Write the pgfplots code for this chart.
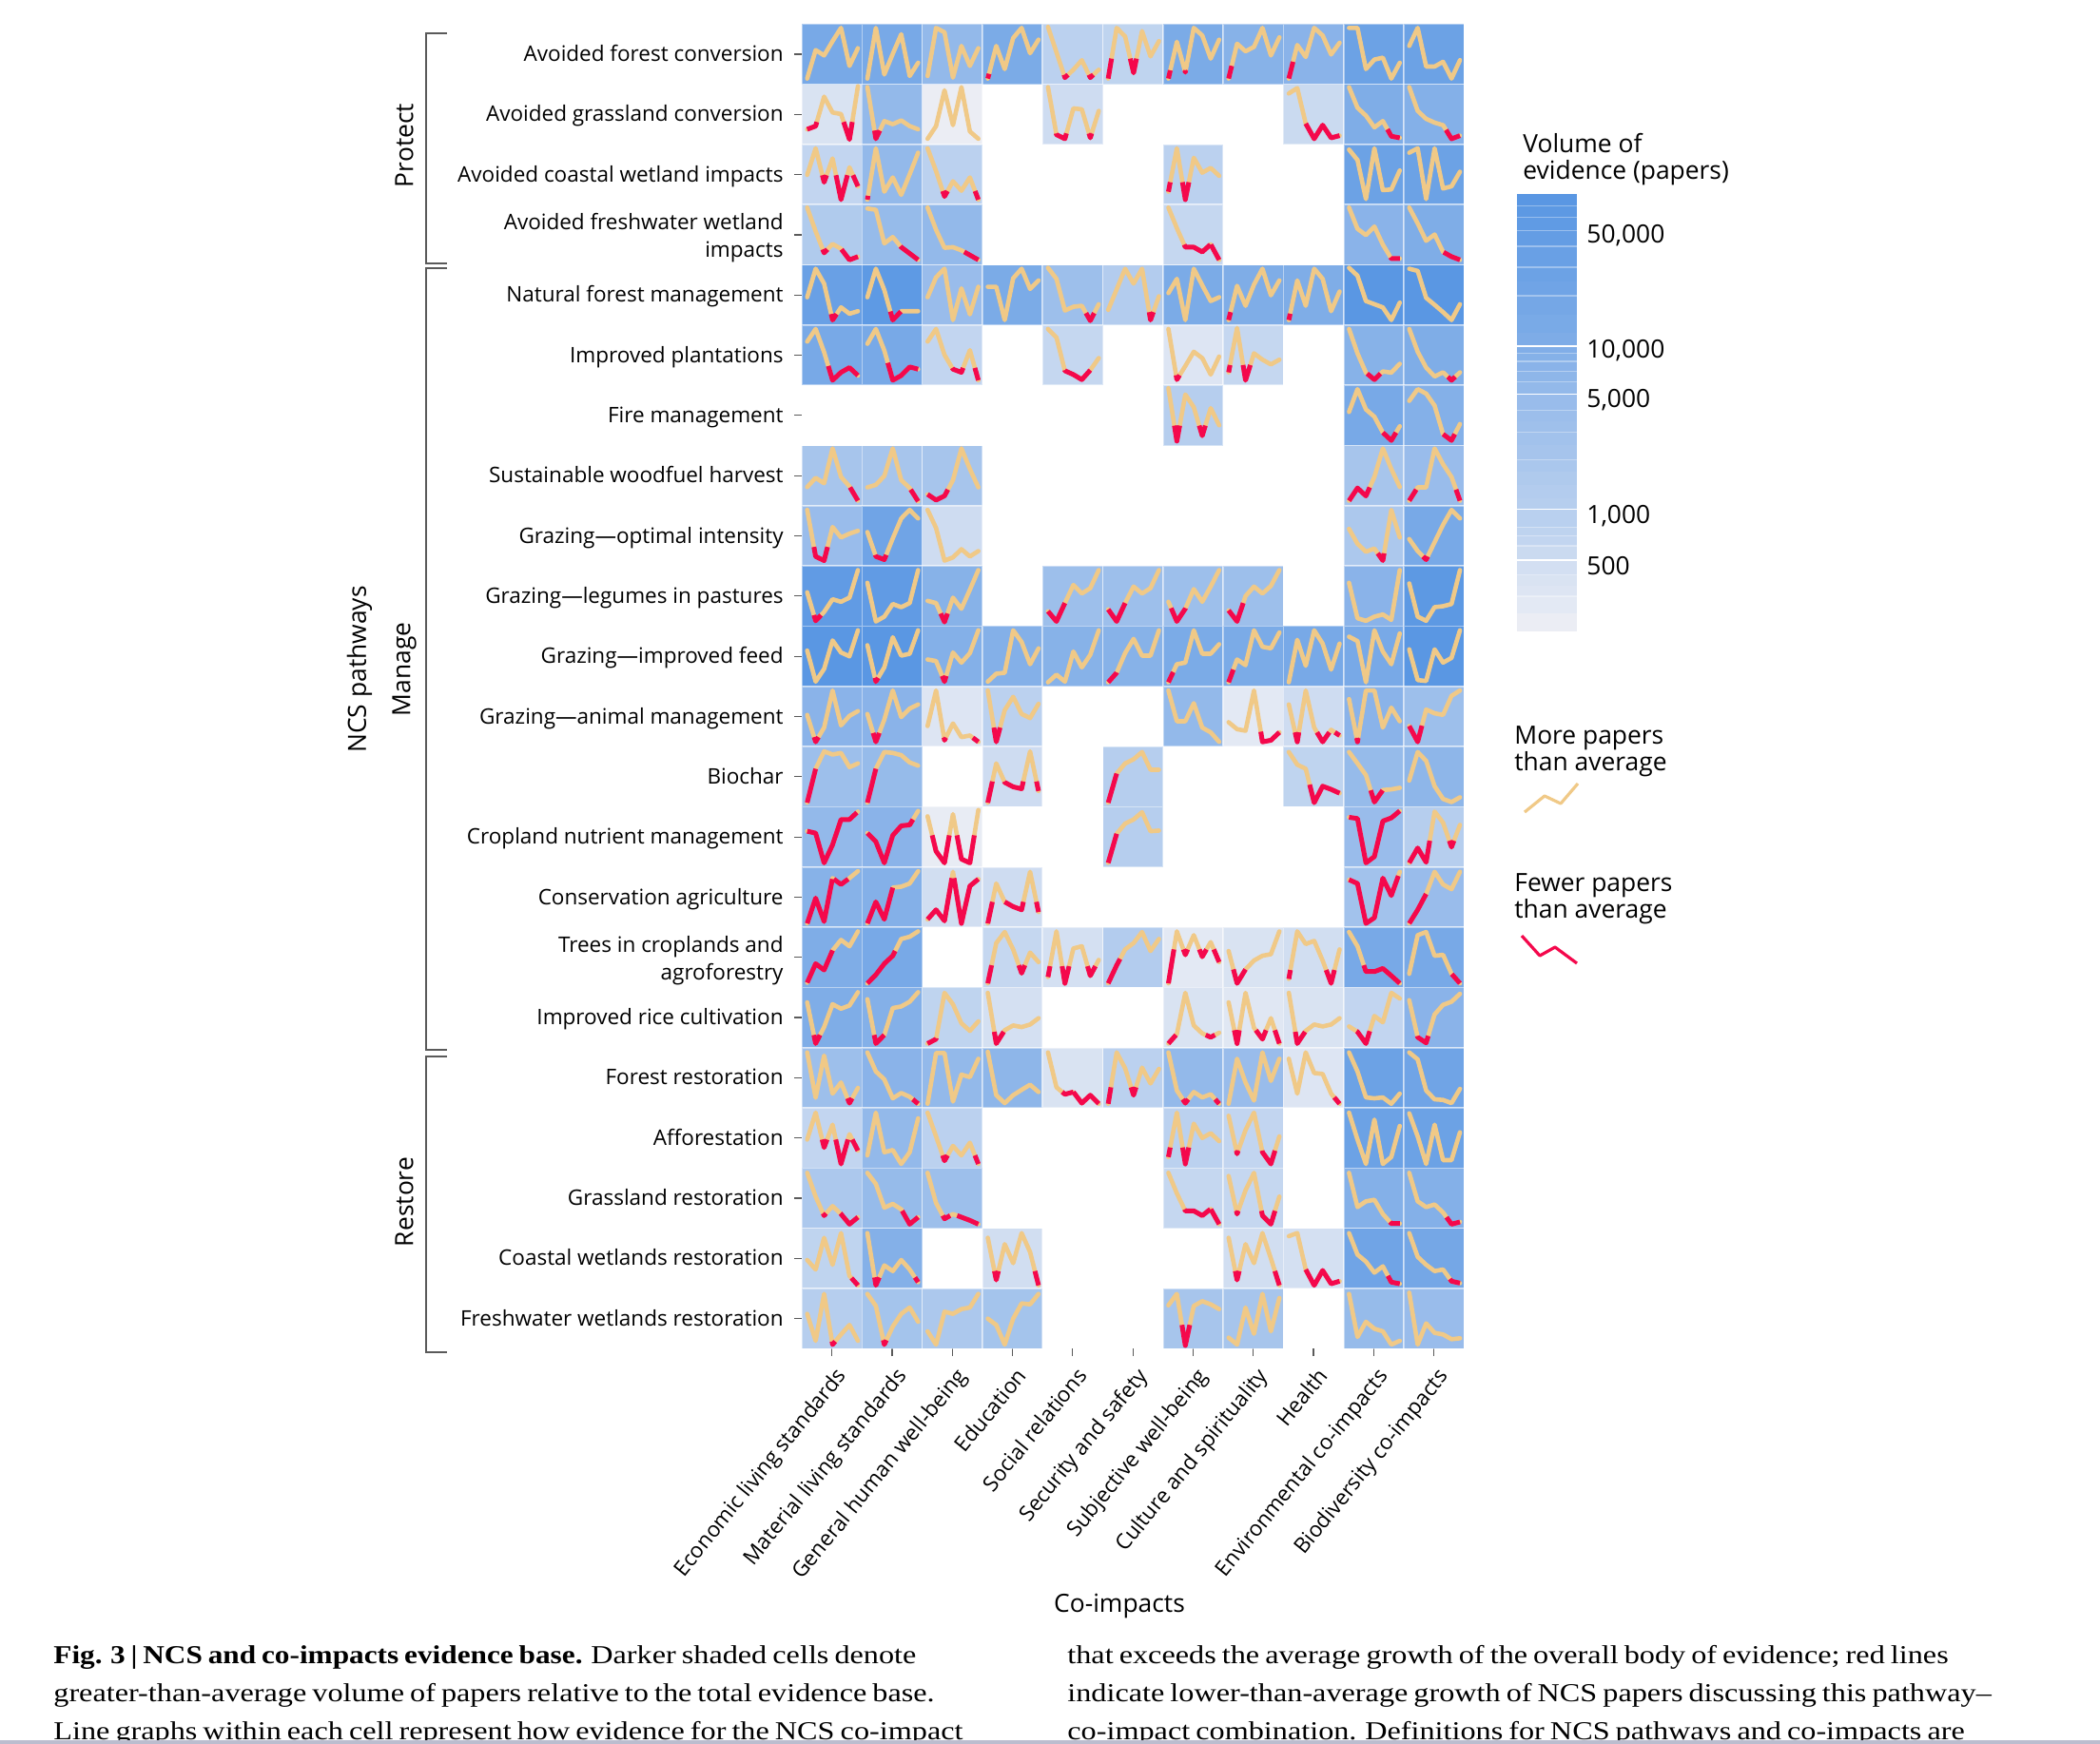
\documentclass[border=0pt]{standalone}
\usepackage{fontspec}
\usepackage{pgfplots}
\pgfplotsset{compat=1.18}
\setmainfont{Open Sans}
\newfontfamily\capfont[FakeStretch=1.185,WordSpace=0.75,BoldFeatures={FakeStretch=1.15}]{Liberation Serif}
\newcommand\lab{\fontsize{11.25}{14.5}\selectfont}
\newcommand\labb{\fontsize{13.2}{14.5}\selectfont}
\definecolor{cellhi}{HTML}{5A97E3}
\definecolor{celllo}{HTML}{EFF0F5}
\definecolor{morec}{HTML}{F0C987}
\definecolor{fewc}{HTML}{F4084C}
\definecolor{rule}{HTML}{5A5A5A}
\definecolor{band}{HTML}{BBBDCF}

\newif\ifinred
% one cell: row, column, shade (0-100), threshold, seven values (down from cell top, 190 = cell height)
\newcommand\cell[5]{%
  \pgfmathsetmacro\xa{#2+1}\pgfmathsetmacro\yb{#1+1}%
  \edef\tmp{\noexpand\addplot[draw=white,draw opacity=0.45,line width=0.8pt,fill=cellhi!#3!celllo] coordinates {(#2,#1)(\xa,#1)(\xa,\yb)(#2,\yb)} --cycle;}\tmp
  \gdef\yelpts{}\gdef\redpts{}\global\inredfalse
  \foreach \dv [count=\ii from 0] in {#5} {%
    \pgfmathsetmacro\xx{#2+0.09+0.1405*\ii}%
    \pgfmathsetmacro\yy{#1+\dv/190}%
    \xdef\yelpts{\yelpts(\xx,\yy)}%
    \ifdim\dv pt>#4pt
      \ifinred\else
        \ifnum\ii>0
          \pgfmathsetmacro\xc{\prevx+0.1405*(#4-\prevd)/(\dv-\prevd)}%
          \pgfmathsetmacro\yc{#1+#4/190}%
          \xdef\redpts{\redpts(\xc,\yc)}%
        \fi
        \global\inredtrue
      \fi
      \xdef\redpts{\redpts(\xx,\yy)}%
    \else
      \ifinred
        \pgfmathsetmacro\xc{\prevx+0.1405*(#4-\prevd)/(\dv-\prevd)}%
        \pgfmathsetmacro\yc{#1+#4/190}%
        \xdef\redpts{\redpts(\xc,\yc)(\xc,nan)}%
        \global\inredfalse
      \fi
    \fi
    \xdef\prevd{\dv}\xdef\prevx{\xx}%
  }%
  \edef\tmp{\noexpand\addplot[morec,line width=2.3pt,line join=round,line cap=round] coordinates {\yelpts};}\tmp
  \ifx\redpts\empty\else
    \edef\tmp{\noexpand\addplot[fewc,line width=2.5pt,line join=round] coordinates {\redpts};}\tmp
  \fi
}
\newcommand\strip[3]{\addplot[draw=none,fill=cellhi!#3!celllo] coordinates {(0,#1)(1,#1)(1,#2)(0,#2)} --cycle;}

\begin{document}
\begin{tikzpicture}
\path[use as bounding box] (0,0) rectangle (1104pt,-917pt);
\clip (0,0) rectangle (1104pt,-917pt);

\begin{axis}[
    at={(421.5pt,-12.65pt)},anchor=north west,
    scale only axis,width=348.15pt,height=696.5pt,
    xmin=0,xmax=11,ymin=0,ymax=22,y dir=reverse,
    unbounded coords=jump,
    axis line style={draw=none},
    tick style={rule,line width=0.6pt},
    tick align=outside,major tick length=4pt,
    xtick pos=bottom,ytick pos=left,
    xtick={0.5,1.5,...,10.5},
    ytick={0.5,1.5,...,21.5},
    typeset ticklabels with strut,
    xticklabels={Economic living standards,Material living standards,General human well-being,Education,Social relations,Security and safety,Subjective well-being,Culture and spirituality,Health,Environmental co-impacts,Biodiversity co-impacts},
    yticklabels={Avoided forest conversion,Avoided grassland conversion,Avoided coastal wetland impacts,{Avoided freshwater wetland\\impacts},Natural forest management,Improved plantations,Fire management,Sustainable woodfuel harvest,Grazing—optimal intensity,Grazing—legumes in pastures,Grazing—improved feed,Grazing—animal management,Biochar,Cropland nutrient management,Conservation agriculture,{Trees in croplands and\\agroforestry},Improved rice cultivation,Forest restoration,Afforestation,Grassland restoration,Coastal wetlands restoration,Freshwater wetlands restoration},
    y tick label style={font=\lab,align=right,inner sep=0pt,xshift=-5.5pt,yshift=-0.9pt},
    x tick label style={font=\lab,rotate=51,anchor=east,inner sep=0pt,xshift=-3pt,yshift=-10pt},
  ]
\cell{0}{0}{80}{999}{172,82,99,54,12,132,76}
\cell{0}{1}{80}{999}{172,12,159,94,32,164,122}
\cell{0}{2}{62}{999}{164,12,26,169,69,132,76}
\cell{0}{3}{78}{157}{172,69,142,44,12,92,49}
\cell{0}{4}{35}{160}{9,89,169,144,114,169,144}
\cell{0}{5}{32}{109}{172,12,39,154,22,102,54}
\cell{0}{6}{78}{146}{172,56,152,12,36,109,49}
\cell{0}{7}{70}{132}{172,62,86,72,12,99,42}
\cell{0}{8}{68}{119}{172,66,104,12,36,96,59}
\cell{0}{9}{88}{999}{12,12,142,112,106,172,122}
\cell{0}{10}{88}{999}{69,12,134,134,119,172,114}
\cell{1}{0}{15}{119}{142,132,39,89,94,174,6}
\cell{1}{1}{62}{146}{9,172,116,126,114,132,142}
\cell{1}{2}{3}{999}{172,132,19,129,9,149,172}
\cell{1}{4}{22}{155}{9,159,172,76,79,169,84}
\cell{1}{8}{25}{124}{29,12,124,172,129,169,162}
\cell{1}{9}{75}{142}{9,74,99,136,116,164,169}
\cell{1}{10}{72}{144}{9,84,109,121,129,172,162}
\cell{2}{0}{30}{97}{96,12,119,44,174,72,132}
\cell{2}{1}{62}{162}{174,12,149,104,159,94,26}
\cell{2}{2}{35}{147}{12,84,164,116,146,104,174}
\cell{2}{6}{35}{119}{149,12,174,42,89,74,99}
\cell{2}{9}{88}{999}{16,49,172,12,144,142,82}
\cell{2}{10}{88}{999}{26,12,172,12,139,132,86}
\cell{3}{0}{42}{141}{9,84,152,124,139,174,164}
\cell{3}{1}{60}{131}{12,16,122,102,134,154,174}
\cell{3}{2}{62}{149}{9,79,136,134,144,159,174}
\cell{3}{6}{28}{126}{9,74,134,134,149,125,174}
\cell{3}{9}{68}{166}{9,76,96,69,126,170,170}
\cell{3}{10}{75}{150}{9,59,114,94,149,164,174}
\cell{4}{0}{90}{155}{102,12,59,174,134,154,146}
\cell{4}{1}{97}{147}{102,12,79,174,146,146,146}
\cell{4}{2}{58}{999}{102,39,12,174,74,156,69}
\cell{4}{3}{78}{999}{69,69,174,42,12,76,49}
\cell{4}{4}{55}{152}{9,44,144,132,129,176,124}
\cell{4}{5}{40}{149}{142,77,12,59,12,174,99}
\cell{4}{6}{78}{999}{89,44,174,12,64,114,102}
\cell{4}{7}{75}{149}{174,66,129,62,12,96,49}
\cell{4}{8}{75}{154}{174,49,129,12,44,146,84}
\cell{4}{9}{100}{999}{9,34,114,124,134,174,119}
\cell{4}{10}{100}{999}{12,19,104,126,149,174,124}
\cell{5}{0}{80}{129}{52,12,85,174,149,134,159}
\cell{5}{1}{80}{119}{59,12,80,174,159,132,139}
\cell{5}{2}{30}{135}{52,12,94,139,149,79,174}
\cell{5}{4}{28}{142}{12,39,144,156,172,142,104}
\cell{5}{6}{12}{158}{12,172,129,84,104,156,99}
\cell{5}{7}{28}{126}{149,9,174,89,109,124,109}
\cell{5}{9}{70}{153}{12,89,150,172,146,150,122}
\cell{5}{10}{75}{163}{12,84,134,162,149,174,149}
\cell{6}{6}{38}{127}{9,176,29,69,159,72,126}
\cell{6}{9}{80}{149}{84,12,76,99,149,174,129}
\cell{6}{10}{72}{154}{49,12,26,64,154,174,122}
\cell{7}{0}{48}{132}{131,102,119,9,99,129,174}
\cell{7}{1}{48}{139}{132,124,96,9,109,134,176}
\cell{7}{2}{48}{139}{154,172,159,109,9,74,132}
\cell{7}{9}{48}{132}{174,134,159,99,9,74,131}
\cell{7}{10}{58}{139}{174,132,132,9,59,99,174}
\cell{8}{0}{58}{130}{13,160,173,67,100,88,79}
\cell{8}{1}{85}{155}{83,160,170,103,40,13,40}
\cell{8}{2}{22}{999}{13,70,173,163,137,160,143}
\cell{8}{9}{45}{150}{73,120,145,135,173,13,100}
\cell{8}{10}{80}{160}{105,143,170,115,60,13,40}
\cell{9}{0}{95}{155}{83,173,145,105,113,100,13}
\cell{9}{1}{95}{999}{53,175,160,120,130,117,13}
\cell{9}{2}{70}{150}{110,117,177,100,135,75,13}
\cell{9}{4}{55}{117}{143,175,117,60,87,70,13}
\cell{9}{5}{55}{117}{137,175,117,65,87,70,13}
\cell{9}{6}{55}{133}{113,175,135,73,113,65,13}
\cell{9}{7}{55}{117}{140,175,95,65,87,63,13}
\cell{9}{9}{68}{999}{53,165,173,160,153,170,13}
\cell{9}{10}{98}{999}{55,160,173,130,127,120,13}
\cell{10}{0}{100}{999}{77,175,135,45,83,95,13}
\cell{10}{1}{100}{163}{60,175,130,35,93,87,13}
\cell{10}{2}{72}{157}{105,110,175,83,115,85,13}
\cell{10}{3}{72}{999}{175,150,147,13,50,120,70}
\cell{10}{4}{70}{999}{177,153,175,80,130,90,13}
\cell{10}{5}{70}{146}{177,147,85,40,93,93,13}
\cell{10}{6}{78}{145}{177,120,115,13,87,87,57}
\cell{10}{7}{78}{137}{177,105,123,13,65,70,20}
\cell{10}{8}{80}{999}{177,43,125,13,55,137,55}
\cell{10}{9}{80}{999}{33,47,177,13,80,120,23}
\cell{10}{10}{100}{999}{73,170,173,73,115,100,13}
\cell{11}{0}{68}{160}{90,175,130,13,123,93,78}
\cell{11}{1}{68}{147}{87,175,105,13,97,70,57}
\cell{11}{2}{12}{162}{125,13,170,117,160,155,175}
\cell{11}{3}{35}{130}{13,175,75,33,87,100,55}
\cell{11}{6}{62}{999}{13,110,110,53,130,145,175}
\cell{11}{7}{8}{143}{113,135,140,13,175,170,145}
\cell{11}{8}{22}{145}{57,175,13,130,175,137,155}
\cell{11}{9}{68}{163}{40,175,13,13,130,67,110}
\cell{11}{10}{55}{124}{125,175,73,85,90,30,13}
\cell{12}{0}{55}{70}{177,70,15,25,20,65,53}
\cell{12}{1}{60}{70}{177,70,17,20,27,50,60}
\cell{12}{3}{22}{110}{177,53,113,127,133,15,140}
\cell{12}{5}{38}{85}{177,85,53,40,17,73,73}
\cell{12}{8}{32}{120}{17,57,70,177,125,135,147}
\cell{12}{9}{60}{138}{17,53,90,175,137,135,130}
\cell{12}{10}{65}{999}{107,17,45,125,165,175,160}
\cell{13}{0}{62}{18}{77,83,177,120,40,40,15}
\cell{13}{1}{68}{40}{83,110,177,90,60,57,13}
\cell{13}{2}{5}{90}{30,140,177,23,165,177,10}
\cell{13}{5}{38}{85}{177,85,53,40,17,77,75}
\cell{13}{9}{58}{10}{33,37,177,157,45,35,13}
\cell{13}{10}{38}{107}{177,130,175,15,50,127,57}
\cell{14}{0}{70}{38}{178,98,172,35,55,35,13}
\cell{14}{1}{72}{65}{178,110,165,65,62,52,13}
\cell{14}{2}{20}{35}{165,135,170,15,178,60,38}
\cell{14}{3}{22}{110}{178,52,110,125,135,15,142}
\cell{14}{9}{52}{28}{40,52,178,160,35,90,15}
\cell{14}{10}{58}{85}{178,135,85,15,55,70,15}
\cell{15}{0}{75}{73}{175,115,135,73,40,60,13}
\cell{15}{1}{80}{75}{177,150,115,90,37,30,13}
\cell{15}{3}{28}{120}{177,50,15,70,145,80,110}
\cell{15}{4}{18}{123}{157,13,177,67,60,153,103}
\cell{15}{5}{40}{100}{177,120,70,50,15,75,37}
\cell{15}{6}{8}{70}{177,13,87,25,93,47,110}
\cell{15}{7}{15}{133}{75,177,133,105,90,85,13}
\cell{15}{8}{20}{135}{163,13,53,43,105,177,70}
\cell{15}{9}{80}{120}{15,60,140,140,130,153,177}
\cell{15}{10}{80}{148}{147,25,15,90,87,147,177}
\cell{16}{0}{75}{150}{47,177,125,53,67,57,15}
\cell{16}{1}{72}{150}{37,177,150,65,60,45,15}
\cell{16}{2}{32}{160}{177,163,17,53,113,137,107}
\cell{16}{3}{18}{140}{17,177,135,120,125,117,97}
\cell{16}{6}{15}{150}{177,147,17,120,145,157,143}
\cell{16}{7}{10}{135}{47,177,17,127,163,97,177}
\cell{16}{8}{15}{140}{17,177,137,117,123,117,97}
\cell{16}{9}{30}{138}{123,140,177,90,110,17,35}
\cell{16}{10}{68}{153}{40,157,175,85,55,45,20}
\cell{17}{0}{55}{160}{15,158,25,145,110,175,127}
\cell{17}{1}{68}{163}{15,75,100,160,143,155,177}
\cell{17}{2}{62}{999}{177,17,17,170,85,93,35}
\cell{17}{3}{65}{999}{13,150,175,150,133,117,140}
\cell{17}{4}{15}{140}{15,125,147,140,175,150,177}
\cell{17}{5}{35}{125}{177,15,65,150,63,113,67}
\cell{17}{6}{62}{163}{15,135,175,140,157,147,177}
\cell{17}{7}{58}{999}{177,35,110,167,15,105,35}
\cell{17}{8}{12}{157}{35,145,15,80,83,145,177}
\cell{17}{9}{88}{999}{15,75,157,160,157,177,145}
\cell{17}{10}{85}{999}{15,37,135,163,165,175,130}
\cell{18}{0}{30}{100}{100,15,125,53,177,83,135}
\cell{18}{1}{62}{999}{150,15,140,133,177,140,33}
\cell{18}{2}{35}{150}{15,90,167,120,150,110,177}
\cell{18}{6}{35}{125}{155,15,177,50,95,80,105}
\cell{18}{7}{30}{135}{25,145,70,15,140,177,90}
\cell{18}{9}{88}{999}{15,100,177,37,177,155,57}
\cell{18}{10}{88}{999}{17,90,177,53,165,165,77}
\cell{19}{0}{45}{143}{15,90,150,120,145,177,155}
\cell{19}{1}{60}{135}{15,50,125,113,130,177,155}
\cell{19}{2}{55}{150}{15,110,160,145,155,165,177}
\cell{19}{6}{28}{130}{15,80,135,135,150,129,177}
\cell{19}{7}{28}{135}{25,145,70,15,150,177,90}
\cell{19}{9}{72}{170}{15,123,105,100,145,175,175}
\cell{19}{10}{72}{155}{15,105,123,115,140,177,170}
\cell{20}{0}{32}{157}{100,130,30,115,15,150,180}
\cell{20}{1}{72}{155}{15,180,117,135,100,130,170}
\cell{20}{3}{20}{135}{30,163,50,110,15,75,180}
\cell{20}{7}{20}{135}{30,163,50,110,15,95,180}
\cell{20}{8}{18}{130}{25,15,130,180,133,175,167}
\cell{20}{9}{85}{150}{15,83,105,140,120,170,175}
\cell{20}{10}{82}{160}{15,90,115,135,130,167,173}
\cell{21}{0}{38}{167}{80,165,17,177,145,115,165}
\cell{21}{1}{50}{163}{17,55,177,120,80,60,105}
\cell{21}{2}{45}{999}{135,177,73,80,65,60,17}
\cell{21}{3}{50}{999}{95,115,177,95,47,50,17}
\cell{21}{6}{48}{115}{53,17,180,55,40,50,65}
\cell{21}{7}{48}{999}{155,177,60,143,17,135,30}
\cell{21}{9}{60}{999}{17,153,105,127,135,177,165}
\cell{21}{10}{58}{999}{13,177,110,140,145,160,157}
\end{axis}

% colour key, log scale of papers
\begin{axis}[
    at={(797.5pt,-102pt)},anchor=north west,
    scale only axis,width=31.5pt,height=230pt,
    xmin=0,xmax=1,ymode=log,ymin=195,ymax=86470,
    axis line style={draw=none},
    xtick=\empty,ytick pos=right,
    ytick={500,1000,5000,10000,50000},
    yticklabels={500,{1,000},{5,000},{10,000},{50,000}},
    minor ytick={},
    tick style={draw=none},
    y tick label style={font=\labb,anchor=west,inner sep=0pt,xshift=5pt,yshift=-1pt},
    log basis y=10,
  ]
\strip{195}{250}{3}\strip{250}{318}{8}\strip{318}{370}{12}\strip{370}{428}{15}
\strip{428}{528}{19}\strip{528}{643}{25}\strip{643}{740}{30}\strip{740}{832}{33}
\strip{832}{1069}{36}\strip{1069}{1250}{38}\strip{1250}{1500}{40}\strip{1500}{1800}{43}
\strip{1800}{2130}{46}\strip{2130}{2600}{49}\strip{2600}{3125}{52}\strip{3125}{3650}{54}
\strip{3650}{4240}{56}\strip{4240}{5320}{58}\strip{5320}{6320}{62}\strip{6320}{7335}{65}
\strip{7335}{8375}{68}\strip{8375}{9420}{71}\strip{9420}{10430}{74}\strip{10430}{12500}{76}
\strip{12500}{16000}{79}\strip{16000}{20960}{82}\strip{20960}{25500}{85}\strip{25500}{31250}{88}
\strip{31250}{41700}{90}\strip{41700}{51950}{93}
\strip{51950}{62680}{96}\strip{62680}{73380}{98}\strip{73380}{86470}{100}
\addplot[white,line width=0.9pt,unbounded coords=jump] coordinates {(0,10430)(1,10430)(0,nan)(0,5320)(1,5320)(0,nan)(0,1069)(1,1069)(0,nan)(0,528)(1,528)};
\addplot[white,opacity=0.35,line width=0.7pt,unbounded coords=jump] coordinates {(0,73380)(1,73380)(0,nan)(0,62680)(1,62680)(0,nan)(0,51950)(1,51950)(0,nan)(0,41700)(1,41700)(0,nan)(0,31250)(1,31250)(0,nan)(0,20960)(1,20960)(0,nan)(0,9420)(1,9420)(0,nan)(0,8375)(1,8375)(0,nan)(0,7335)(1,7335)(0,nan)(0,6320)(1,6320)(0,nan)(0,4240)(1,4240)(0,nan)(0,3125)(1,3125)(0,nan)(0,2130)(1,2130)(0,nan)(0,832)(1,832)(0,nan)(0,740)(1,740)(0,nan)(0,643)(1,643)(0,nan)(0,428)(1,428)(0,nan)(0,318)(1,318)};
\end{axis}

% page-pixel axis for the key lines and the brackets
\begin{axis}[
    at={(0pt,-917pt)},anchor=south west,
    scale only axis,width=1104pt,height=917pt,
    xmin=0,xmax=2208,ymin=0,ymax=1834,y dir=reverse,
    hide axis,clip=false,
  ]
\addplot[morec,line width=1.6pt,line join=round] coordinates {(1603,854)(1624,837)(1641,845)(1659,824)};
\addplot[fewc,line width=1.6pt,line join=round] coordinates {(1600,984)(1619,1005)(1635,996)(1658,1013)};
\addplot[rule,line width=0.8pt] coordinates {(470,35)(448,35)(448,277)(470,277)};
\addplot[rule,line width=0.8pt] coordinates {(470,282)(448,282)(448,1104)(470,1104)};
\addplot[rule,line width=0.8pt] coordinates {(470,1111)(448,1111)(448,1422)(470,1422)};
\end{axis}

\begin{scope}[x=0.5pt,y=-0.5pt]
\node[font=\labb,rotate=90] at (425,153) {Protect};
\node[font=\labb,rotate=90] at (425,704) {Manage};
\node[font=\labb,rotate=90] at (425,1264) {Restore};
\node[font=\labb,rotate=90] at (378,704) {NCS pathways};
\node[font=\labb] at (1177,1689) {Co-impacts};
\node[font=\labb,anchor=base west,inner sep=0pt] at (1601,161) {Volume of};
\node[font=\labb,anchor=base west,inner sep=0pt] at (1601,189) {evidence (papers)};
\node[font=\labb,anchor=base west,inner sep=0pt] at (1592,783) {More papers};
\node[font=\labb,anchor=base west,inner sep=0pt] at (1592,811) {than average};
\node[font=\labb,anchor=base west,inner sep=0pt] at (1592,937) {Fewer papers};
\node[font=\labb,anchor=base west,inner sep=0pt] at (1592,965) {than average};
\begin{scope}[every node/.style={anchor=base west,inner sep=0pt,font=\capfont\fontsize{13.6}{16}\selectfont}]
\node at (56,1749) {\textbf{Fig. 3 | NCS and co-impacts evidence base.} Darker shaded cells denote};
\node at (56,1789) {greater-than-average volume of papers relative to the total evidence base.};
\node at (56,1829) {Line graphs within each cell represent how evidence for the NCS co-impact};
\node at (1122,1749) {that exceeds the average growth of the overall body of evidence; red lines};
\node at (1122,1789) {indicate lower-than-average growth of NCS papers discussing this pathway–};
\node at (1122,1829) {co-impact combination. Definitions for NCS pathways and co-impacts are};
\end{scope}
\fill[band] (0,1830) rectangle (2208,1834);
\end{scope}
\end{tikzpicture}
\end{document}
